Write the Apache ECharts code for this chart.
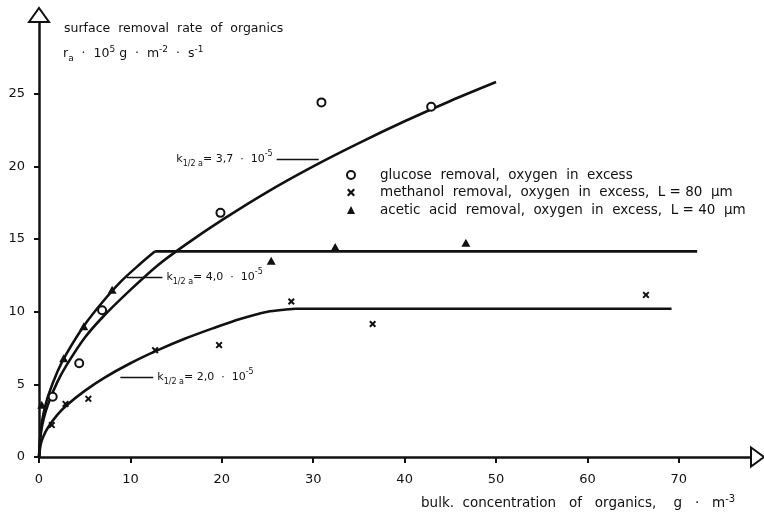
<!DOCTYPE html>
<html>
<head>
<meta charset="utf-8">
<script src="https://cdn.jsdelivr.net/npm/echarts@6/dist/echarts.min.js"></script>
<style>
  html, body { margin: 0; padding: 0; background: #fff; }
  #chart { width: 764px; height: 516px; }
</style>
</head>
<body>
<div id="chart"></div>
<script>
// Axis ticks
const xTicks = [0, 10, 20, 30, 40, 50, 60, 70];
const yTicks = [0, 5, 10, 15, 20, 25];
const xMax = 78;
const yMax = 30;

// Measured removal rates (x: bulk concentration, y: rate)
const glucosePoints = [[1.5, 4.15], [4.4, 6.45], [6.9, 10.1], [19.85, 16.8], [30.9, 24.4], [42.9, 24.1]];
const methanolPoints = [[1.4, 2.2], [2.9, 3.65], [5.4, 4.0], [12.7, 7.35], [19.7, 7.7], [27.6, 10.7], [36.5, 9.15], [66.4, 11.15]];
const aceticPoints = [[0.3, 3.6], [2.7, 6.8], [4.9, 9.0], [8.0, 11.5], [25.4, 13.5], [32.4, 14.45], [46.7, 14.75]];

// Model curves
const glucoseCurveX = [0, 0.2, 0.5, 1, 2, 3, 5, 7, 10, 13, 16, 20, 25, 30, 35, 40, 45, 50];
const glucoseCurveY = [0, 1.6, 2.6, 3.65, 5.15, 6.3, 8.2, 9.65, 11.5, 13.2, 14.6, 16.3, 18.25, 20.0, 21.6, 23.1, 24.5, 25.8];
const aceticCurveX = [0, 0.2, 0.5, 1, 2, 3, 5, 7, 9, 11, 12.7];
const aceticCurveY = [0, 1.9, 3.0, 4.2, 5.85, 7.1, 9.1, 10.7, 12.1, 13.25, 14.15];
const aceticPlateauX = [12.7, 72];
const aceticPlateauY = [14.15, 14.15];
const methanolCurveX = [0, 0.2, 0.5, 1, 2, 3, 5, 7, 10, 13, 16, 19, 22, 25, 27, 28];
const methanolCurveY = [0, 0.9, 1.45, 2.05, 2.9, 3.55, 4.55, 5.4, 6.45, 7.35, 8.15, 8.85, 9.5, 10.0, 10.15, 10.2];
const methanolPlateauX = [28, 69.2];
const methanolPlateauY = [10.2, 10.2];

// Half-saturation labels with their leader lines [x0, x1, y]
const glucoseLeader = [26.0, 30.6, 20.5];
const aceticLeader = [9.6, 13.5, 12.4];
const methanolLeader = [8.9, 12.5, 5.5];
const glucoseK = ['3,7', '-5'];
const aceticK = ['4,0', '-5'];
const methanolK = ['2,0', '-5'];

const seriesNames = [
  'glucose  removal,  oxygen  in  excess',
  'methanol  removal,  oxygen  in  excess,  L = 80  \u00b5m',
  'acetic  acid  removal,  oxygen  in  excess,  L = 40  \u00b5m'
];

const F = 'DejaVu Sans';
const INK = '#111';

const zip = (xs, ys) => xs.map((x, i) => [x, ys[i]]);

const richBase = (size) => ({
  n: { fontSize: size, fontFamily: F, fontWeight: 'normal', color: INK, lineHeight: 18 },
  sub: { fontSize: Math.round(size * 0.72), fontFamily: F, fontWeight: 'normal', color: INK, verticalAlign: 'bottom' },
  sup: { fontSize: Math.round(size * 0.72), fontFamily: F, fontWeight: 'normal', color: INK, verticalAlign: 'top' }
});

const kText = (k) => '{n|k}{sub|1/2 a}{n|= ' + k[0] + '  \u00b7  10}{sup|' + k[1] + '}';

function leader(l, k, pos) {
  return {
    silent: true,
    symbol: ['none', 'none'],
    lineStyle: { color: INK, width: 1.3, type: 'solid' },
    label: {
      show: true,
      position: pos,
      distance: 4,
      formatter: kText(k),
      rich: richBase(11)
    },
    emphasis: { disabled: true },
    data: [[{ coord: [l[0], l[2]] }, { coord: [l[1], l[2]] }]]
  };
}

function curve(data, smooth, markLine) {
  const s = {
    type: 'line',
    data: data,
    showSymbol: false,
    smooth: smooth,
    lineStyle: { color: INK, width: 2.6 },
    silent: true,
    z: 2
  };
  if (markLine) s.markLine = markLine;
  return s;
}

const chart = echarts.init(document.getElementById('chart'), null, { renderer: 'canvas' });

const option = {
  animation: false,
  backgroundColor: '#fff',
  grid: { left: 39, top: 21, right: 12, bottom: 59, containLabel: false },
  title: [
    {
      left: 64, top: 22, padding: 0,
      text: 'surface  removal  rate  of  organics',
      textStyle: { fontSize: 12.5, fontWeight: 'normal', fontFamily: F, color: INK }
    },
    {
      left: 63, top: 45, padding: 0,
      text: '{n|r}{sub|a}{n|  \u00b7  10}{sup|5}{n| g  \u00b7  m}{sup|-2}{n|  \u00b7  s}{sup|-1}',
      textStyle: { fontWeight: 'normal', rich: richBase(12.5) }
    },
    {
      left: 421, top: 494, padding: 0,
      text: '{n|bulk.  concentration   of   organics,    g   \u00b7   m}{sup|-3}',
      textStyle: { fontWeight: 'normal', rich: richBase(13.5) }
    }
  ],
  legend: {
    orient: 'vertical',
    left: 341, top: 162,
    padding: 5,
    itemWidth: 8, itemHeight: 8, itemGap: 1.5,
    selectedMode: false,
    data: seriesNames,
    textStyle: { fontFamily: F, fontSize: 13.5, color: INK, lineHeight: 16, padding: [0, 0, 0, 20] }
  },
  xAxis: {
    type: 'value',
    min: 0, max: xMax,
    splitLine: { show: false },
    axisLine: { show: true, onZero: false, lineStyle: { color: INK, width: 2.5 } },
    axisTick: { show: true, length: 6, customValues: xTicks, lineStyle: { color: INK, width: 2 } },
    axisLabel: { customValues: xTicks, margin: 16, fontSize: 13, fontFamily: F, color: INK }
  },
  yAxis: {
    type: 'value',
    min: 0, max: yMax,
    splitLine: { show: false },
    axisLine: { show: true, onZero: false, lineStyle: { color: INK, width: 2.5 } },
    axisTick: { show: true, length: 5, customValues: yTicks, lineStyle: { color: INK, width: 2 } },
    axisLabel: { customValues: yTicks, margin: 14, fontSize: 13, fontFamily: F, color: INK }
  },
  series: [
    curve(zip(glucoseCurveX, glucoseCurveY), 0.3, leader(glucoseLeader, glucoseK, 'start')),
    curve(zip(aceticCurveX, aceticCurveY), 0.3, leader(aceticLeader, aceticK, 'end')),
    curve(zip(aceticPlateauX, aceticPlateauY), false),
    curve(zip(methanolCurveX, methanolCurveY), 0.3, leader(methanolLeader, methanolK, 'end')),
    curve(zip(methanolPlateauX, methanolPlateauY), false),
    {
      name: seriesNames[0], type: 'scatter', data: glucosePoints,
      symbol: 'circle', symbolSize: 8, z: 5,
      itemStyle: { color: '#fff', borderColor: INK, borderWidth: 2, opacity: 1 }
    },
    {
      name: seriesNames[1], type: 'scatter', data: methanolPoints,
      symbol: 'path://M0,2 L2,0 L5,3 L8,0 L10,2 L7,5 L10,8 L8,10 L5,7 L2,10 L0,8 L3,5 Z',
      symbolSize: 7, z: 5,
      itemStyle: { color: INK, opacity: 1 }
    },
    {
      name: seriesNames[2], type: 'scatter', data: aceticPoints,
      symbol: 'triangle', symbolSize: [9, 8], z: 5,
      itemStyle: { color: INK, opacity: 1 }
    }
  ]
};

chart.setOption(option);

// Hollow arrow heads at the ends of both axes
const xEnd = chart.convertToPixel({ gridIndex: 0 }, [xMax, 0]);
const yEnd = chart.convertToPixel({ gridIndex: 0 }, [0, yMax]);
chart.setOption({
  graphic: [
    {
      type: 'polygon', z: 100,
      shape: { points: [[xEnd[0] - 1, xEnd[1] - 9.5], [xEnd[0] + 12, xEnd[1]], [xEnd[0] - 1, xEnd[1] + 9.5]] },
      style: { fill: '#fff', stroke: INK, lineWidth: 2 }
    },
    {
      type: 'polygon', z: 100,
      shape: { points: [[yEnd[0] - 10, yEnd[1] + 1], [yEnd[0], yEnd[1] - 13], [yEnd[0] + 10, yEnd[1] + 1]] },
      style: { fill: '#fff', stroke: INK, lineWidth: 2 }
    }
  ]
});
</script>
</body>
</html>
